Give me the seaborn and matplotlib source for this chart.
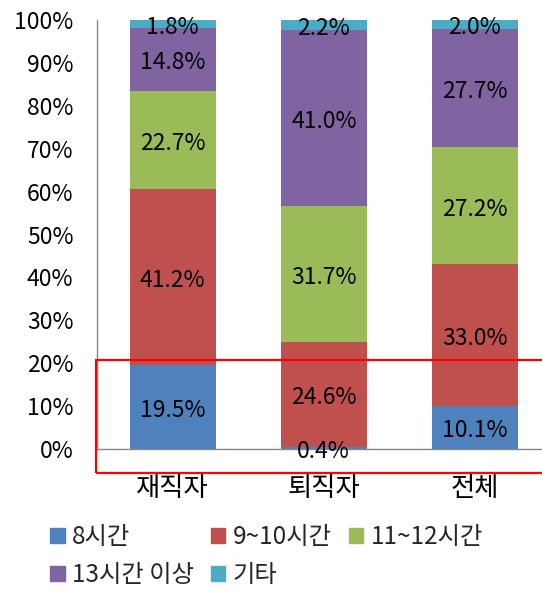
import matplotlib
matplotlib.use("Agg")
import matplotlib.pyplot as plt
import matplotlib.patches as mpatches
import seaborn as sns
import pandas as pd
import numpy as np

categories = ["재직자", "퇴직자", "전체"]
series = ["8시간", "9~10시간", "11~12시간", "13시간 이상", "기타"]
v_8 = [19.5, 0.4, 10.1]
v_9_10 = [41.2, 24.6, 33.0]
v_11_12 = [22.7, 31.7, 27.2]
v_13 = [14.8, 41.0, 27.7]
v_etc = [1.8, 2.2, 2.0]
values = [v_8, v_9_10, v_11_12, v_13, v_etc]
colors = ["#4F81BD", "#C0504D", "#9BBB59", "#8064A2", "#4BACC6"]

sns.set_theme(style="white")
plt.rcParams["font.family"] = ["Noto Sans CJK KR", "DejaVu Sans"]

fig = plt.figure(figsize=(5.42, 5.90), dpi=100)
ax = fig.add_axes([97/542, 141/590, 453.5/542, 429/590])

bottom = np.zeros(len(categories))
handles = []
for name, vals, col in zip(series, values, colors):
    df = pd.DataFrame({"cat": categories, "val": vals})
    sns.barplot(data=df, x="cat", y="val", color=col, width=0.57,
                bottom=bottom, ax=ax, saturation=1, errorbar=None,
                edgecolor="none", linewidth=0)
    cont = ax.containers[-1]
    texts = ax.bar_label(cont, labels=[f"{v:.1f}%" for v in vals],
                         label_type="center", fontsize=16.5, color="black")
    for t in texts:
        t.xyann = (0, -2.5)
    handles.append(mpatches.Patch(color=col, label=name))
    bottom = bottom + np.array(vals)

ax.set_ylim(0, 100)
ax.set_xlim(-0.5, 2.5)
ax.set_yticks(range(0, 101, 10))
ax.set_yticklabels([f"{t}%" for t in range(0, 101, 10)])
ax.set_xlabel("")
ax.set_ylabel("")
ax.tick_params(axis="y", length=0, pad=17, labelsize=16.5, colors="black")
ax.tick_params(axis="x", length=0, pad=19, labelsize=19, colors="black")
for s in ["top", "right"]:
    ax.spines[s].set_visible(False)
for s in ["left", "bottom"]:
    ax.spines[s].set_color("#888888")
    ax.spines[s].set_linewidth(1)

order = [0, 3, 1, 4, 2]
fig.legend([handles[i] for i in order], [series[i] for i in order],
           ncol=3, loc="upper left", bbox_to_anchor=(50/542, 66/590),
           frameon=False, fontsize=17.5, handlelength=0.6, handleheight=0.6,
           handletextpad=0.3, columnspacing=0.7, labelspacing=0.5,
           borderpad=0, borderaxespad=0)

rect = mpatches.Rectangle((96/542, (590-473)/590), 460/542, 113/590,
                          transform=fig.transFigure, fill=False,
                          edgecolor="#FF0000", linewidth=1.6, clip_on=False)
fig.patches.append(rect)

fig.savefig("out.png", dpi=100)
